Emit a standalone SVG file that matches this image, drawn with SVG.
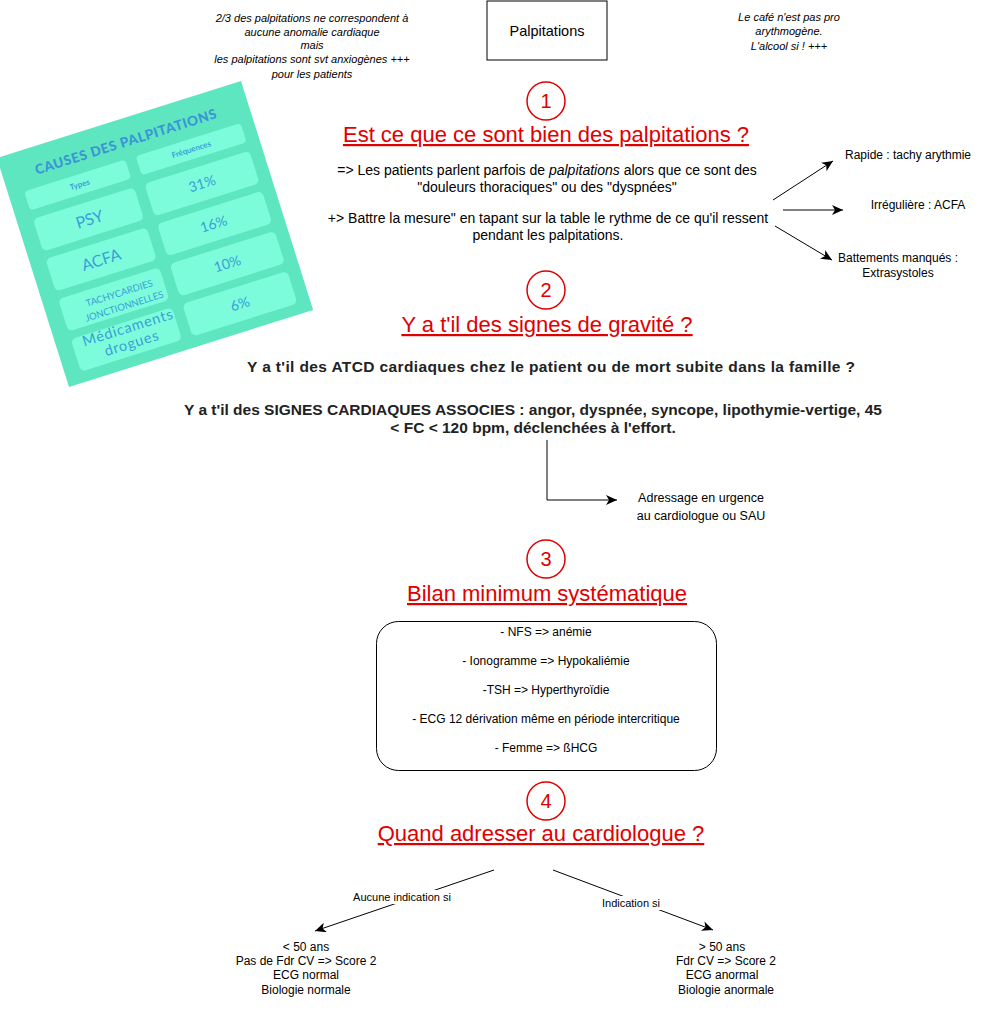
<svg xmlns="http://www.w3.org/2000/svg" width="984" height="1012" viewBox="0 0 984 1012">
<defs>
<marker id="arr" markerUnits="userSpaceOnUse" markerWidth="12" markerHeight="10" viewBox="0 0 12 10" refX="11" refY="5" orient="auto">
<path d="M0,0 L11,5 L0,10 L3,5 Z" fill="#000"/>
</marker>
<style>
text{font-family:"Liberation Sans",Arial,sans-serif;fill:#000}
.it{font-style:italic;font-size:11px;text-anchor:middle}
.red{fill:#e00000}
.head{font-size:22px;text-anchor:middle;text-decoration:underline}
.num{fill:none;stroke:#e00000;stroke-width:1.5}
.b14{font-size:15.5px;font-weight:bold;text-anchor:middle;fill:#222}
.t13{font-size:14px;text-anchor:middle}
.t12{font-size:12px;text-anchor:middle}
.t11{font-size:11px;text-anchor:middle}
.bx{font-size:12px;text-anchor:middle}
.conn{fill:none;stroke:#000;stroke-width:1}
.cell{fill:#7dfcdb}
.ct{fill:#3a9fd6;text-anchor:middle;font-family:"Lato","Liberation Sans",sans-serif;font-weight:normal}
</style>
</defs>

<g id="table-image" transform="translate(155,234) rotate(-17.5)">
<rect x="-128" y="-120" width="256" height="240" fill="#5ee6c1"/>
<text class="ct" x="0" y="-92" style="font-size:13.5px;font-weight:900;letter-spacing:0.6px;fill:#3b95d4">CAUSES DES PALPITATIONS</text>
<rect class="cell" x="-112" y="-80" width="106" height="20" rx="4"/>
<rect class="cell" x="5" y="-80" width="110" height="20" rx="4"/>
<text class="ct" x="-57" y="-67" style="font-size:8px;font-weight:bold">Types</text>
<text class="ct" x="60" y="-67" style="font-size:8px;font-weight:bold">Fréquences</text>
<rect class="cell" x="-112" y="-51" width="106" height="34" rx="5"/>
<rect class="cell" x="5" y="-51" width="110" height="34" rx="5"/>
<rect class="cell" x="-112" y="-9" width="106" height="34" rx="5"/>
<rect class="cell" x="5" y="-9" width="110" height="34" rx="5"/>
<rect class="cell" x="-112" y="33" width="106" height="34" rx="5"/>
<rect class="cell" x="5" y="33" width="110" height="34" rx="5"/>
<rect class="cell" x="-112" y="75" width="106" height="34" rx="5"/>
<rect class="cell" x="5" y="75" width="110" height="34" rx="5"/>
<text class="ct" x="-58" y="-28" style="font-size:16px">PSY</text>
<text class="ct" x="60" y="-29" style="font-size:14px">31%</text>
<text class="ct" x="-59" y="14" style="font-size:16px">ACFA</text>
<text class="ct" x="59" y="13" style="font-size:14px">16%</text>
<text class="ct" x="-52" y="49" style="font-size:9.5px">TACHYCARDIES</text>
<text class="ct" x="-51" y="63" style="font-size:9.5px">JONCTIONNELLES</text>
<text class="ct" x="60" y="55" style="font-size:14px">10%</text>
<text class="ct" x="-54" y="86" style="font-size:14.5px;letter-spacing:0.8px">Médicaments</text>
<text class="ct" x="-55" y="102" style="font-size:14.5px;letter-spacing:0.8px">drogues</text>
<text class="ct" x="60" y="97" style="font-size:14px">6%</text>
</g>

<g id="note-left">
<text class="it" x="312" y="22">2/3 des palpitations ne correspondent à</text>
<text class="it" x="312" y="36">aucune anomalie cardiaque</text>
<text class="it" x="312" y="49">mais</text>
<text class="it" x="312" y="63">les palpitations sont svt anxiogènes +++</text>
<text class="it" x="312" y="78">pour les patients</text>
</g>

<g id="palpitations">
<rect x="487" y="1" width="120" height="59" fill="#fff" stroke="#000" stroke-width="1"/>
<text x="547" y="36" style="font-size:14.5px;text-anchor:middle">Palpitations</text>
</g>

<g id="note-right">
<text class="it" x="789" y="21">Le café n'est pas pro</text>
<text class="it" x="789" y="35">arythmogène.</text>
<text class="it" x="789" y="50">L'alcool si ! +++</text>
</g>

<g id="step1">
<circle class="num" cx="546" cy="101" r="19"/>
<text class="red" x="546" y="108" style="font-size:20px;text-anchor:middle">1</text>
<text class="red head" x="546" y="142">Est ce que ce sont bien des palpitations ?</text>
</g>

<g id="step1-text">
<text class="t13" x="547" y="175">=&gt; Les patients parlent parfois de <tspan font-style="italic">palpitations</tspan> alors que ce sont des</text>
<text class="t13" x="547" y="192">"douleurs thoraciques" ou des "dyspnées"</text>
<text class="t13" x="548" y="223">+&gt; Battre la mesure" en tapant sur la table le rythme de ce qu'il ressent</text>
<text class="t13" x="548" y="240">pendant les palpitations.</text>
</g>

<g id="rapide"><text class="t12" x="908" y="159">Rapide : tachy arythmie</text></g>
<g id="irreguliere"><text class="t12" x="918" y="209">Irrégulière : ACFA</text></g>
<g id="battements">
<text class="t12" x="898" y="262">Battements manqués :</text>
<text class="t12" x="898" y="277">Extrasystoles</text>
</g>

<g id="step2">
<circle class="num" cx="546" cy="290" r="19"/>
<text class="red" x="546" y="297" style="font-size:20px;text-anchor:middle">2</text>
<text class="red head" x="547" y="332">Y a t'il des signes de gravité ?</text>
</g>

<g id="step2-text">
<text class="b14" x="551" y="372" textLength="608" lengthAdjust="spacing">Y a t'il des ATCD cardiaques chez le patient ou de mort subite dans la famille ?</text>
<text class="b14" x="533" y="415">Y a t'il des SIGNES CARDIAQUES ASSOCIES : angor, dyspnée, syncope, lipothymie-vertige, 45</text>
<text class="b14" x="533" y="433">&lt; FC &lt; 120 bpm, déclenchées à l'effort.</text>
</g>

<g id="urgence">
<text class="t12" x="701" y="502" style="font-size:12.5px">Adressage en urgence</text>
<text class="t12" x="701" y="520" style="font-size:12.5px">au cardiologue ou SAU</text>
</g>

<g id="step3">
<circle class="num" cx="546" cy="559" r="19"/>
<text class="red" x="546" y="566" style="font-size:20px;text-anchor:middle">3</text>
<text class="red head" x="547" y="601">Bilan minimum systématique</text>
</g>

<g id="bilan">
<rect x="376.5" y="621.5" width="340" height="149" rx="22" fill="#fff" stroke="#000" stroke-width="1"/>
<text class="bx" x="546" y="636">- NFS =&gt; anémie</text>
<text class="bx" x="546" y="665">- Ionogramme =&gt; Hypokaliémie</text>
<text class="bx" x="546" y="694">-TSH =&gt; Hyperthyroïdie</text>
<text class="bx" x="546" y="723">- ECG 12 dérivation même en période intercritique</text>
<text class="bx" x="546" y="752">- Femme =&gt; ßHCG</text>
</g>

<g id="step4">
<circle class="num" cx="546" cy="801" r="19"/>
<text class="red" x="546" y="808" style="font-size:20px;text-anchor:middle">4</text>
<text class="red head" x="541" y="841">Quand adresser au cardiologue ? </text>
</g>

<g id="moins50">
<text class="t12" x="306" y="951">&lt; 50 ans</text>
<text class="t12" x="306" y="965">Pas de Fdr CV =&gt; Score 2</text>
<text class="t12" x="306" y="979">ECG normal</text>
<text class="t12" x="306" y="994">Biologie normale</text>
</g>

<g id="plus50">
<text class="t12" x="722" y="951">&gt; 50 ans</text>
<text class="t12" x="726" y="965">Fdr CV =&gt; Score 2</text>
<text class="t12" x="722" y="979">ECG anormal</text>
<text class="t12" x="726" y="994">Biologie anormale</text>
</g>

<g id="connectors">
<line class="conn" x1="773" y1="200" x2="833" y2="161" marker-end="url(#arr)"/>
<line class="conn" x1="783" y1="210" x2="843" y2="210" marker-end="url(#arr)"/>
<line class="conn" x1="775" y1="226" x2="832" y2="260" marker-end="url(#arr)"/>
<polyline class="conn" points="547,440 547,500 617,500" marker-end="url(#arr)"/>
<line class="conn" x1="494" y1="870" x2="315" y2="931" marker-end="url(#arr)"/>
<line class="conn" x1="553" y1="870" x2="713" y2="930" marker-end="url(#arr)"/>
<rect x="350" y="890" width="104" height="14" fill="#fff"/>
<text class="t11" x="402" y="901">Aucune indication si</text>
<rect x="599" y="896" width="64" height="14" fill="#fff"/>
<text class="t11" x="631" y="907">Indication si</text>
</g>
</svg>
